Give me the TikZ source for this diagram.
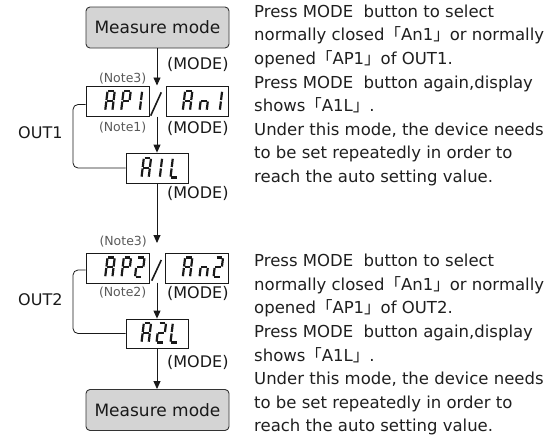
\documentclass[tikz,border=0pt]{standalone}
\usepackage{fontspec}
\setmainfont{DejaVu Sans}
\newfontfamily\cjk{Noto Sans CJK JP}
\usetikzlibrary{arrows.meta}
\tikzset{
  mbox/.style={draw=black!80, line width=0.9pt, fill=black!17, rounded corners=4pt, minimum width=143pt, minimum height=41pt, inner sep=0pt, font=\fontsize{17}{20}\selectfont, text=black!90},
  dbox/.style={draw=black!90, line width=0.8pt, minimum width=63pt, minimum height=30pt, inner sep=0pt},
  arr/.style={line width=0.9pt, draw=black!90, -{Triangle[width=7pt,length=8pt]}},
  brk/.style={line width=0.8pt, draw=black!90, rounded corners=5pt},
  lbl/.style={font=\fontsize{16}{19}\selectfont, text=black!90, inner sep=0pt},
  note/.style={font=\fontsize{12.5}{15}\selectfont, text=black!65, inner sep=0pt},
  desc/.style={font=\fontsize{16.5}{23.6}\selectfont, text=black!88, align=left, inner sep=0pt},
  seg/.style={line width=2.2pt, draw=black!90},
  slashline/.style={line width=1.6pt, draw=black!90}
}
\def\sgA{\draw[seg] (0.8pt,19.5pt)--(6.4pt,19.5pt);}
\def\sgB{\draw[seg] (7.2pt,18.7pt)--(7.2pt,10.5pt);}
\def\sgC{\draw[seg] (7.2pt,9pt)--(7.2pt,0.8pt);}
\def\sgD{\draw[seg] (0.8pt,0pt)--(6.4pt,0pt);}
\def\sgE{\draw[seg] (0pt,0.8pt)--(0pt,9pt);}
\def\sgF{\draw[seg] (0pt,10.5pt)--(0pt,18.7pt);}
\def\sgG{\draw[seg] (0.8pt,9.75pt)--(6.4pt,9.75pt);}
\newcommand\segdigit[3]{\begin{scope}[shift={(#1,#2)},xslant=0.12]\foreach \s in {#3}{\csname sg\s\endcsname}\end{scope}}
\begin{document}
\begin{tikzpicture}[x=1pt,y=-1pt]
\useasboundingbox (0,0) rectangle (555,439);
% boxes
\node[mbox] (m1) at (157.5,27.5) {Measure mode};
\node[mbox] (m2) at (157.5,410) {Measure mode};
\node[dbox] (ap1) at (117.5,101.5) {};
\node[dbox, minimum width=62pt] (an1) at (197,101.5) {};
\node[dbox, minimum width=62pt] (a1l) at (157,168) {};
\node[dbox] (ap2) at (117.5,268) {};
\node[dbox] (an2) at (196.5,268) {};
\node[dbox, minimum width=62pt, minimum height=29pt] (a2l) at (157,333.5) {};
% digits
\segdigit{105.2}{110.5}{A,B,C,E,F,G}
\segdigit{121.2}{110.5}{A,B,E,F,G}
\segdigit{132.6}{110.5}{B,C}
\segdigit{182.8}{110.5}{A,B,C,E,F,G}
\segdigit{199.5}{110.5}{C,E,G}
\segdigit{212.6}{110.5}{B,C}
\segdigit{141.5}{177.5}{A,B,C,E,F,G}
\segdigit{152.6}{177.5}{B,C}
\segdigit{170.5}{177.5}{D,E,F}
\segdigit{105.2}{277}{A,B,C,E,F,G}
\segdigit{121.5}{277}{A,B,E,F,G}
\segdigit{135}{277}{A,B,G,E,D}
\segdigit{182.8}{277}{A,B,C,E,F,G}
\segdigit{199.5}{277}{C,E,G}
\segdigit{213.5}{277}{A,B,G,E,D}
\segdigit{141.5}{342.5}{A,B,C,E,F,G}
\segdigit{156.5}{342.5}{A,B,G,E,D}
\segdigit{170.5}{342.5}{D,E,F}
% slashes
\draw[slashline] (150.7,115.7) -- (161.3,92.3);
\draw[slashline] (151.7,280.7) -- (161.3,260);
% connector ends
\coordinate (t1) at (157,85.5);
\coordinate (s1b) at (157,116.5);
\coordinate (t2) at (157,243);
\coordinate (s2b) at (157,282.5);
\draw[arr] (m1.south -| t1) -- (t1);
\draw[arr] (s1b) -- (a1l.north);
\draw[arr] (a1l.south) -- (t2);
\draw[arr] (s2b) -- (a2l.north);
\draw[arr] (a2l.south) -- (m2.north -| a2l.south);
% brackets
\coordinate (k1) at (73,0);
\draw[brk] ([yshift=-3pt]ap1.west) -| (k1 |- a1l.west) -- (a1l.west);
\draw[brk] ([yshift=-2pt]ap2.west) -| (k1 |- a2l.west) -- (a2l.west);
% labels
\node[lbl, anchor=west] (md1) at (167,64) {(MODE)};
\node[lbl, anchor=west] (md2) at (167,128) {(MODE)};
\node[lbl, anchor=west] (md3) at (167,193) {(MODE)};
\node[lbl, anchor=west] (md4) at (167,293) {(MODE)};
\node[lbl, anchor=west] (md5) at (167,362) {(MODE)};
\node[note, anchor=east] (n31) at (146.5,79) {(Note3)};
\node[note, anchor=east] (n1) at (146.5,128) {(Note1)};
\node[note, anchor=east] (n32) at (147,242) {(Note3)};
\node[note, anchor=east] (n2) at (146.5,293) {(Note2)};
\node[lbl, anchor=west] (o1) at (18,133) {OUT1};
\node[lbl, anchor=west] (o2) at (18,300) {OUT2};
% descriptions
\node[desc, anchor=north west] (d1) at (254,4.5) {Press MODE\ \ button to select\\
normally closed{\cjk 「}An1{\cjk 」}or normally\\
opened{\cjk 「}AP1{\cjk 」}of OUT1.\\
Press MODE\ \ button again,display\\
shows{\cjk 「}A1L{\cjk 」}.\\
Under this mode, the device needs\\
to be set repeatedly in order to\\
reach the auto setting value.};
\node[desc, anchor=north west] (d2) at (254,254) {Press MODE\ \ button to select\\
normally closed{\cjk 「}An1{\cjk 」}or normally\\
opened{\cjk 「}AP1{\cjk 」}of OUT2.\\
Press MODE\ \ button again,display\\
shows{\cjk 「}A1L{\cjk 」}.\\
Under this mode, the device needs\\
to be set repeatedly in order to\\
reach the auto setting value.};
\end{tikzpicture}
\end{document}
